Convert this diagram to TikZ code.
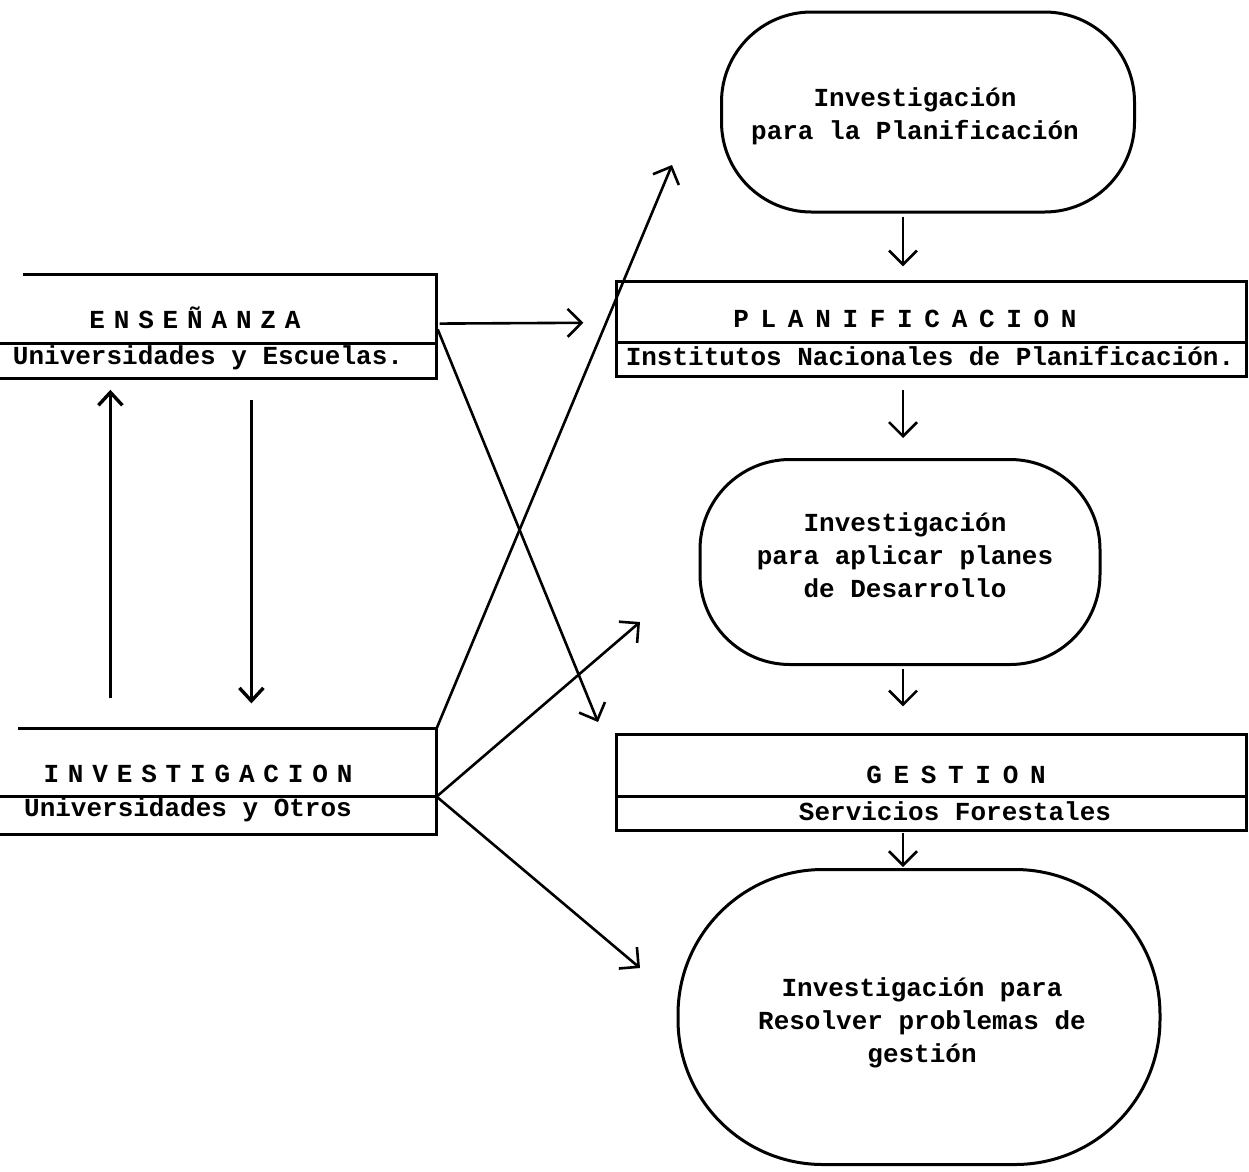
\documentclass[tikz,border=0pt]{standalone}
\usepackage{fontspec}
\usetikzlibrary{arrows.meta}
\newfontfamily\twfont{Liberation Mono}
\newfontfamily\twwide[LetterSpace=45]{Liberation Mono}
\newfontfamily\twmid[LetterSpace=34]{Liberation Mono}
\begin{document}
\begin{tikzpicture}[x=1pt,y=-1pt,
  line width=3.2pt,
  part/.style={draw=none, inner sep=0pt, rectangle},
  sub/.style={inner sep=0pt, font=\twfont\bfseries\fontsize{26}{32}\selectfont},
  hdrR/.style={inner sep=0pt, font=\twwide\bfseries\fontsize{26}{32}\selectfont},
  hdrL/.style={inner sep=0pt, font=\twmid\bfseries\fontsize{26}{32}\selectfont},
  blob/.style={draw, line width=3pt, rectangle, inner sep=0pt},
  blobtxt/.style={inner sep=0pt, align=center, font=\twfont\bfseries\fontsize{26}{33}\selectfont},
  arr/.style={line width=2.6pt, -{Straight Barb[length=14pt,width=28pt,line width=2.6pt]}},
  arrV/.style={line width=3.4pt, -{Straight Barb[length=13pt,width=24pt,line width=3.4pt]}}
]
\useasboundingbox (0,0) rectangle (1249,1171);

% ---------- left boxes ----------
\node[part, minimum width=435pt, minimum height=66pt] (ensT) at (217.5,309) {};
\node[part, minimum width=435pt, minimum height=32pt, anchor=north] (ensB) at (ensT.south) {};
\node[hdrL] (ensH) at (195,318) {ENSEÑANZA};
\node[sub] (ensS) at (208,358) {Universidades y Escuelas.};
\draw ([xshift=25pt]ensT.north west) -- (ensT.north east) -- (ensB.south east) -- (ensB.south west);
\draw (ensT.south west) -- (ensT.south east);

\node[part, minimum width=435pt, minimum height=65pt] (invT) at (217.5,762.5) {};
\node[part, minimum width=435pt, minimum height=35pt, anchor=north] (invB) at (invT.south) {};
\node[hdrL] (invH) at (198,774) {INVESTIGACION};
\node[sub] (invS) at (188,810) {Universidades y Otros};
\draw ([xshift=20pt]invT.north west) -- (invT.north east) -- (invB.south east) -- (invB.south west);
\draw (invT.south west) -- (invT.south east);

% ---------- right boxes ----------
\node[part, minimum width=627pt, minimum height=58pt] (planT) at (931.5,312) {};
\node[part, minimum width=627pt, minimum height=31pt, anchor=north] (planB) at (planT.south) {};
\node[hdrR] (planH) at (905,319) {PLANIFICACION};
\node[sub] (planS) at (930,356) {Institutos Nacionales de Planificación.};
\draw (planT.north west) rectangle (planB.south east);
\draw (planT.south west) -- (planT.south east);

\node[part, minimum width=627pt, minimum height=59pt] (gestT) at (931.5,765.5) {};
\node[part, minimum width=627pt, minimum height=31pt, anchor=north] (gestB) at (gestT.south) {};
\node[hdrR] (gestH) at (956,775) {GESTION};
\node[sub] (gestS) at (955,811) {Servicios Forestales};
\draw (gestT.north west) rectangle (gestB.south east);
\draw (gestT.south west) -- (gestT.south east);

% ---------- blobs ----------
\node[blob, minimum width=413pt, minimum height=200pt, rounded corners=90pt] (c1) at (928,112) {};
\node[blobtxt] (c1t) at (915,116) {Investigación\\para la Planificación};

\node[blob, minimum width=400pt, minimum height=205pt, rounded corners=90pt] (c2) at (900,562) {};
\node[blobtxt] (c2t) at (905,555) {Investigación\\para aplicar planes\\de Desarrollo};

\node[blob, minimum width=482pt, minimum height=295pt, rounded corners=145pt] (c3) at (919,1017) {};
\node[blobtxt] (c3t) at (922,1023) {Investigación para\\Resolver problemas de\\gestión};

% ---------- vertical chain ----------
\coordinate (ax) at (903,0);
\draw[arr, shorten <=3pt, shorten >=15pt] (c1.south -| ax) -- (planT.north -| ax);
\draw[arr, shorten <=13pt, shorten >=20pt] (planB.south -| ax) -- (c2.north -| ax);
\draw[arr, shorten <=3pt, shorten >=28pt] (c2.south -| ax) -- (gestT.north -| ax);
\draw[arr, shorten <=2pt, shorten >=1pt] (gestB.south -| ax) -- (c3.north -| ax);

% ---------- left vertical arrows ----------
\draw[arrV, shorten <=30pt, shorten >=11pt] ([xshift=112pt]invT.north west) -- ([xshift=112pt]ensB.south west);
\draw[arrV, shorten <=21pt, shorten >=25pt] ([xshift=253pt]ensB.south west) -- ([xshift=253pt]invT.north west);

% ---------- diagonal arrows ----------
\coordinate (t2) at (598,722);
\coordinate (t3) at (672,165);
\coordinate (t4) at (640,622);
\coordinate (t5) at (640,968);
\draw[arr, shorten <=3pt, shorten >=33pt] ([yshift=20pt]ensB.north east) -- ([yshift=20pt]planB.north west);
\draw[arr, shorten <=3pt] ([yshift=17pt]ensB.north east) -- (t2);
\draw[arr] (invT.north east) -- (t3);
\draw[arr] (invB.north east) -- (t4);
\draw[arr] (invB.north east) -- (t5);
\end{tikzpicture}
\end{document}
